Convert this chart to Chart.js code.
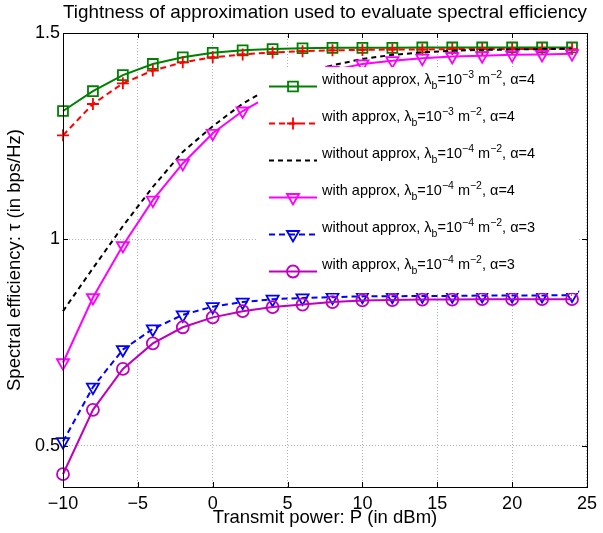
<!DOCTYPE html>
<html>
<head>
<meta charset="utf-8">
<script src="https://cdn.jsdelivr.net/npm/chart.js@4/dist/chart.umd.min.js"></script>
<style>
  html, body { margin: 0; padding: 0; background: #fff; }
</style>
</head>
<body>
<canvas id="c" width="603" height="533"></canvas>
<script>
// transmit power (dBm) at which every curve is sampled
const power = [-10, -8, -6, -4, -2, 0, 2, 4, 6, 8, 10, 12, 14, 16, 18, 20, 22, 24];

// spectral efficiency values
const exactL3A4  = [1.311, 1.359, 1.398, 1.425, 1.441, 1.452, 1.458, 1.461, 1.463, 1.464, 1.464, 1.464, 1.465, 1.465, 1.465, 1.465, 1.465, 1.465];
const approxL3A4 = [1.252, 1.328, 1.378, 1.409, 1.429, 1.441, 1.448, 1.453, 1.456, 1.458, 1.459, 1.460, 1.460, 1.461, 1.461, 1.461, 1.461, 1.461];
const exactL4A4  = [0.826, 0.930, 1.032, 1.127, 1.212, 1.274, 1.329, 1.370, 1.400, 1.422, 1.437, 1.447, 1.453, 1.457, 1.459, 1.460, 1.461, 1.462];
const approxL4A4 = [0.701, 0.859, 0.985, 1.095, 1.184, 1.257, 1.311, 1.352, 1.385, 1.410, 1.425, 1.433, 1.439, 1.443, 1.445, 1.447, 1.448, 1.450];
const exactL4A3  = [0.510, 0.642, 0.733, 0.783, 0.817, 0.837, 0.848, 0.855, 0.858, 0.860, 0.862, 0.862, 0.863, 0.863, 0.864, 0.864, 0.864, 0.865];
const approxL4A3 = [0.431, 0.587, 0.686, 0.748, 0.787, 0.811, 0.826, 0.836, 0.842, 0.848, 0.852, 0.853, 0.854, 0.854, 0.855, 0.855, 0.855, 0.855];

// legend text pieces
const seriesKind = ['without approx', 'with approx', 'without approx', 'with approx', 'without approx', 'with approx'];
const lambdaExp = ['\u22123', '\u22123', '\u22124', '\u22124', '\u22124', '\u22124'];
const alphaVal = ['4', '4', '4', '4', '3', '3'];

const xTicks = [-10, -5, 0, 5, 10, 15, 20, 25];
const yTicks = [0.5, 1, 1.5];

const series = [exactL3A4, approxL3A4, exactL4A4, approxL4A4, exactL4A3, approxL4A3];

const looks = [
  { color: '#008000', dash: [],     point: 'rect',     r: 7, rot: 0 },
  { color: '#ff0000', dash: [6, 4], point: 'cross',    r: 6, rot: 0 },
  { color: '#000000', dash: [5, 4], point: null,       r: 0, rot: 0 },
  { color: '#ff00ff', dash: [],     point: 'triangle', r: 7, rot: 180 },
  { color: '#0000ff', dash: [6, 4], point: 'triangle', r: 7, rot: 180 },
  { color: '#bf00bf', dash: [],     point: 'circle',   r: 6, rot: 0 },
];

const FONT = "'Liberation Sans', Arial, Helvetica, sans-serif";
Chart.defaults.font.family = FONT;
Chart.defaults.color = '#000';

const minus = v => (v < 0 ? '\u2212' + Math.abs(v) : String(v));

// text with sub/superscripts
function drawRich(ctx, x, y, runs) {
  let cx = x;
  runs.forEach(run => {
    const small = run.sub || run.sup;
    ctx.font = (small ? 10.5 : 14.5) + 'px ' + FONT;
    const dy = run.sub ? 4.5 : run.sup ? -6 : 0;
    ctx.fillText(run.t, cx, y + dy);
    cx += ctx.measureText(run.t).width;
  });
}

// legend with white background + axes box with inward ticks
const boxPlugin = {
  id: 'boxPlugin',
  afterDatasetsDraw(chart) {
    const ctx = chart.ctx;
    const area = chart.chartArea;
    const xs = chart.scales.x, ys = chart.scales.y;

    ctx.save();
    ctx.fillStyle = '#fff';
    ctx.fillRect(258, 67, 320, 226);

    chart.data.datasets.forEach((ds, i) => {
      const look = looks[i];
      const ly = 86.5 + i * 37;
      ctx.strokeStyle = look.color;
      ctx.lineWidth = 2;
      ctx.setLineDash(look.dash);
      ctx.beginPath();
      ctx.moveTo(269, ly);
      ctx.lineTo(317, ly);
      ctx.stroke();
      ctx.setLineDash([]);
      if (look.point) {
        ctx.fillStyle = 'rgba(0,0,0,0)';
        ctx.lineWidth = 1.8;
        Chart.helpers.drawPoint(ctx, { pointStyle: look.point, radius: look.r, rotation: look.rot, borderWidth: 1.8 }, 293, ly);
      }
      ctx.fillStyle = '#000';
      ctx.textBaseline = 'alphabetic';
      ctx.textAlign = 'left';
      drawRich(ctx, 322, ly - 2.5, [
        { t: seriesKind[i] + ', \u03bb' },
        { t: 'b', sub: true },
        { t: '=10' },
        { t: lambdaExp[i], sup: true },
        { t: ' m' },
        { t: '\u22122', sup: true },
        { t: ', \u03b1=' + alphaVal[i] },
      ]);
    });

    // axes box
    ctx.strokeStyle = '#000';
    ctx.lineWidth = 1;
    ctx.strokeRect(Math.round(area.left) + 0.5, Math.round(area.top) + 0.5,
      Math.round(area.right - area.left), Math.round(area.bottom - area.top));
    ctx.beginPath();
    xTicks.forEach(v => {
      const px = Math.round(xs.getPixelForValue(v)) + 0.5;
      ctx.moveTo(px, area.bottom); ctx.lineTo(px, area.bottom - 5);
      ctx.moveTo(px, area.top); ctx.lineTo(px, area.top + 5);
    });
    yTicks.forEach(v => {
      const py = Math.round(ys.getPixelForValue(v)) + 0.5;
      ctx.moveTo(area.left, py); ctx.lineTo(area.left + 5, py);
      ctx.moveTo(area.right, py); ctx.lineTo(area.right - 5, py);
    });
    ctx.stroke();
    ctx.restore();
  }
};

new Chart(document.getElementById('c'), {
  type: 'line',
  data: {
    datasets: series.map((vals, i) => {
      const look = looks[i];
      return {
        label: seriesKind[i],
        data: power.map((p, k) => ({ x: p, y: vals[k] })),
        borderColor: look.color,
        backgroundColor: 'rgba(0,0,0,0)',
        borderWidth: 2,
        borderDash: look.dash,
        pointStyle: look.point || 'circle',
        pointRadius: look.point ? look.r : 0,
        pointRotation: look.rot,
        pointBorderColor: look.color,
        pointBackgroundColor: 'rgba(0,0,0,0)',
        pointBorderWidth: 1.8,
        tension: 0,
        clip: false,
        order: 10 - i,
      };
    }),
  },
  options: {
    responsive: false,
    animation: false,
    devicePixelRatio: 1,
    layout: { padding: { left: 0, right: 11, top: 0, bottom: 0 } },
    plugins: {
      legend: { display: false },
      tooltip: { enabled: false },
      title: {
        display: true,
        fullSize: false,
        text: 'Tightness of approximation used to evaluate spectral efficiency',
        font: { size: 19, weight: 'normal' },
        color: '#000',
        padding: { top: 1, bottom: 9.2 },
      },
    },
    scales: {
      x: {
        type: 'linear',
        min: -10,
        max: 25,
        afterBuildTicks: s => { s.ticks = xTicks.map(v => ({ value: v })); },
        afterFit: s => { s.height = 46; },
        ticks: { font: { size: 18 }, padding: 6, maxRotation: 0, autoSkip: false, callback: v => minus(v) },
        grid: { color: 'rgba(0,0,0,0.3)', lineWidth: 1, drawTicks: false },
        border: { display: false, dash: [1, 2] },
        title: { display: true, text: 'Transmit power: P (in dBm)', font: { size: 18.5 }, padding: { top: 0, bottom: 4 } },
      },
      y: {
        type: 'linear',
        min: 0.4,
        max: 1.5,
        afterBuildTicks: s => { s.ticks = yTicks.map(v => ({ value: v })); },
        afterFit: s => { s.width = 63; },
        ticks: { font: { size: 18 }, padding: 3, callback: v => String(v) },
        grid: { color: 'rgba(0,0,0,0.3)', lineWidth: 1, drawTicks: false },
        border: { display: false, dash: [1, 2] },
        title: { display: true, text: 'Spectral efficiency: \u03c4 (in bps/Hz)', font: { size: 18.5 }, padding: { top: 4, bottom: 0 } },
      },
    },
  },
  plugins: [boxPlugin],
});
</script>
</body>
</html>
